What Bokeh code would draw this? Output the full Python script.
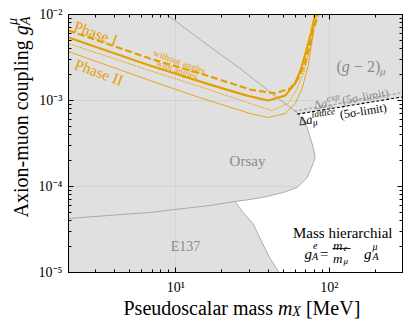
import math
from bokeh.plotting import figure
from bokeh.layouts import column, row
from bokeh.models import LogAxis, FixedTicker, CustomJSTickFormatter, Label
from bokeh.embed import file_html
from bokeh.resources import INLINE

# ---------------- data ----------------
x_min, x_max = 2.0, 300.0
y_min, y_max = 1e-5, 1e-2

x_major_ticks = [10, 100]
x_minor_ticks = [2, 3, 4, 5, 6, 7, 8, 9, 20, 30, 40, 50, 60, 70, 80, 90, 200, 300]
y_major_ticks = [1e-5, 1e-4, 1e-3, 1e-2]
y_minor_ticks = [2e-5, 3e-5, 4e-5, 5e-5, 6e-5, 7e-5, 8e-5, 9e-5,
                 2e-4, 3e-4, 4e-4, 5e-4, 6e-4, 7e-4, 8e-4, 9e-4,
                 2e-3, 3e-3, 4e-3, 5e-3, 6e-3, 7e-3, 8e-3, 9e-3]

# Phase I, with angles (thick solid)
phase1_with_m = [2.0, 6.76, 16.7, 29.1, 39.9, 51.6, 60.0, 65.6, 70.8, 76.2, 81.0]
phase1_with_g = [5.40e-3, 2.55e-3, 1.53e-3, 1.14e-3, 1.00e-3, 1.14e-3, 1.58e-3, 2.36e-3, 3.81e-3, 6.18e-3, 1.0e-2]
# Phase I, without angles (thick dashed)
phase1_without_m = [2.0, 6.76, 16.7, 30.5, 44.4, 55.6, 62.7, 68.7, 74.0, 78.6, 84.8]
phase1_without_g = [6.52e-3, 3.08e-3, 1.90e-3, 1.34e-3, 1.21e-3, 1.38e-3, 1.80e-3, 2.55e-3, 4.03e-3, 6.52e-3, 1.0e-2]
# Phase II, without angles (thin dashed)
phase2_without_m = [2.0, 6.76, 14.35, 30.5, 42.4, 54.0, 61.8, 68.7, 75.1, 79.8, 83.5]
phase2_without_g = [4.60e-3, 2.23e-3, 1.45e-3, 9.23e-4, 7.65e-4, 9.23e-4, 1.38e-3, 2.23e-3, 4.36e-3, 7.45e-3, 1.0e-2]
# Phase II, with angles (thin solid)
phase2_with_m = [2.0, 6.76, 14.35, 30.5, 39.9, 51.6, 60.0, 66.6, 72.9, 77.4, 81.0]
phase2_with_g = [3.71e-3, 1.71e-3, 1.08e-3, 7.06e-4, 6.34e-4, 7.06e-4, 9.23e-4, 1.38e-3, 2.55e-3, 4.98e-3, 1.0e-2]

# Orsay exclusion boundary (from the top edge, round the tip, to the left edge)
orsay_m = [8.73, 14.4, 26.2, 45.8, 61.8, 71.8, 78.6, 81.0, 78.6, 71.8, 61.8, 50.0, 39.4, 30.5, 24.3, 16.7, 6.76, 2.0]
orsay_g = [1.0e-2, 5.12e-3, 2.36e-3, 1.08e-3, 7.24e-4, 4.85e-4, 2.84e-4, 2.17e-4, 1.85e-4, 1.27e-4,
           9.73e-5, 8.51e-5, 7.65e-5, 7.06e-5, 6.70e-5, 6.02e-5, 4.99e-5, 4.25e-5]
# E137 exclusion boundary (from the Orsay junction down to the bottom edge)
e137_m = [24.3, 27.4, 31.8, 36.5, 41.1, 47.1]
e137_g = [6.70e-5, 4.99e-5, 3.72e-5, 2.23e-5, 1.46e-5, 1.0e-5]
# (g-2)_mu 5 sigma limits
g2_exp_m = [59.0, 137.0, 300.0]
g2_exp_g = [7.55e-4, 9.70e-4, 1.24e-3]
g2_lat_m = [62.0, 137.0, 300.0]
g2_lat_g = [6.94e-4, 8.75e-4, 1.10e-3]

# allowed (white) region: below the lattice limit, right of E137, below Orsay
allowed_m = g2_lat_m + [x_max] + e137_m[::-1] + orsay_m[5:15][::-1]
allowed_g = g2_lat_g + [y_min] + e137_g[::-1] + orsay_g[5:15][::-1]

ORANGE = "#e69f00"
GRAYTXT = "#8a8a8a"
FONT = "Liberation Serif"

# ---------------- main figure ----------------
p = figure(x_axis_type="log", y_axis_type="log",
           x_range=(x_min, x_max), y_range=(y_min, y_max),
           frame_width=334, frame_height=258,
           min_border_left=34, min_border_right=9, min_border_top=14, min_border_bottom=26,
           output_backend="svg", toolbar_location=None,
           background_fill_color="#e0e0e0", border_fill_color="white")
p.outline_line_color = "black"
p.outline_line_width = 1

fmt_code = """
const e = Math.round(Math.log10(tick));
const sup = {'-':'\u207b','0':'\u2070','1':'\u00b9','2':'\u00b2','3':'\u00b3','4':'\u2074','5':'\u2075','6':'\u2076','7':'\u2077','8':'\u2078','9':'\u2079'};
return '10' + String(e).split('').map(c => sup[c]).join('');
"""

def style_axis(ax):
    ax.major_tick_in = 5
    ax.major_tick_out = 0
    ax.minor_tick_in = 3
    ax.minor_tick_out = 0
    ax.axis_line_color = "black"
    ax.major_tick_line_color = "black"
    ax.minor_tick_line_color = "black"
    ax.axis_line_width = 1
    ax.major_label_text_font = FONT
    ax.major_label_text_font_size = "14px"
    ax.major_label_text_color = "black"

p.xaxis.ticker = FixedTicker(ticks=x_major_ticks, minor_ticks=x_minor_ticks)
p.yaxis.ticker = FixedTicker(ticks=y_major_ticks, minor_ticks=y_minor_ticks)
p.xaxis.formatter = CustomJSTickFormatter(code=fmt_code)
p.yaxis.formatter = CustomJSTickFormatter(code=fmt_code)
style_axis(p.xaxis[0])
style_axis(p.yaxis[0])
p.xaxis.major_label_standoff = 7
p.yaxis.major_label_standoff = 6

top = LogAxis(ticker=FixedTicker(ticks=x_major_ticks, minor_ticks=x_minor_ticks),
              formatter=CustomJSTickFormatter(code="return ''"), major_label_standoff=0)
right = LogAxis(ticker=FixedTicker(ticks=y_major_ticks, minor_ticks=y_minor_ticks),
                formatter=CustomJSTickFormatter(code="return ''"), major_label_standoff=0)
style_axis(top)
style_axis(right)
p.add_layout(top, "above")
p.add_layout(right, "right")

p.xgrid.ticker = FixedTicker(ticks=x_major_ticks)
p.ygrid.ticker = FixedTicker(ticks=y_major_ticks)
p.grid.grid_line_color = "#cfcfcf"
p.grid.grid_line_alpha = 0.7
p.grid.grid_line_width = 1

# ---------------- regions and limits ----------------
p.patch(allowed_m, allowed_g, fill_color="white", line_color=None)
p.line(orsay_m, orsay_g, line_color="#9c9c9c", line_width=0.8)
p.line(e137_m, e137_g, line_color="#9c9c9c", line_width=0.8)
p.line(g2_exp_m, g2_exp_g, line_color="#9a9a9a", line_width=1.1, line_dash="3 2")
p.line(g2_lat_m, g2_lat_g, line_color="black", line_width=1.1, line_dash="3 2")

# ---------------- projected sensitivities ----------------
p.line(phase2_with_m, phase2_with_g, line_color=ORANGE, line_width=0.9)
p.line(phase2_without_m, phase2_without_g, line_color=ORANGE, line_width=0.9, line_dash="2 1")
p.line(phase1_with_m, phase1_with_g, line_color=ORANGE, line_width=2.2)
p.line(phase1_without_m, phase1_without_g, line_color=ORANGE, line_width=2.2, line_dash="7 3")

# ---------------- texts (screen units relative to each frame) ----------------
def add_pieces(fig, sx, sy, pieces, angle=0.0, color="black", align="left"):
    ca, sa = math.cos(angle), math.sin(angle)
    for txt, dx, dy, size, style in pieces:
        fig.add_layout(Label(x=sx, y=sy, x_units="screen", y_units="screen",
                             x_offset=dx * ca - dy * sa, y_offset=dx * sa + dy * ca,
                             text=txt, angle=angle, text_font=FONT,
                             text_font_size=f"{size}px", text_font_style=style,
                             text_color=color, text_align=align,
                             text_baseline="alphabetic"))

# phase labels
add_pieces(p, 6, 247, [("Phase I", 0, 0, 15.5, "normal")], angle=-0.34, color=ORANGE)
add_pieces(p, 7, 209, [("Phase II", 0, 0, 15.5, "normal")], angle=-0.35, color=ORANGE)
add_pieces(p, 85, 220, [("without angles", 0, 0, 9.5, "normal")], angle=-0.35, color=ORANGE)
add_pieces(p, 88, 210, [("with angles", 0, 0, 9.5, "normal")], angle=-0.35, color=ORANGE)

# region labels
add_pieces(p, 268, 206, [("(", 0, 0, 16, "normal"), ("g", 5.3, 0, 16, "italic"),
                         ("\u2212 2)", 17.5, 0, 16, "normal"), ("\u03bc", 43.5, -4, 11, "italic")],
           color=GRAYTXT)
add_pieces(p, 179, 112, [("Orsay", 0, 0, 15, "normal")], color=GRAYTXT, align="center")
add_pieces(p, 117, 26, [("E137", 0, 0, 14, "normal")], color=GRAYTXT, align="center")

add_pieces(p, 245, 167, [("\u0394", 0, 0, 12.5, "normal"), ("a", 7.6, 0, 12.5, "italic"),
                         ("exp", 14.0, 4.5, 9.5, "italic"), ("\u03bc", 14.0, -3.5, 9.5, "italic"),
                         ("(5\u03c3-limit)", 29.0, 0, 12, "normal")],
           angle=0.17, color=GRAYTXT)
add_pieces(p, 230, 151, [("\u0394", 0, 0, 12.5, "normal"), ("a", 7.6, 0, 12.5, "italic"),
                         ("lattice", 14.0, 4.5, 9.5, "italic"), ("\u03bc", 14.0, -3.5, 9.5, "italic"),
                         ("(5\u03c3-limit)", 42.0, 0, 12, "normal")],
           angle=0.16, color="black")

# mass hierarchy note
add_pieces(p, 324, 40, [("Mass hierarchial", 0, 0, 15, "normal")], align="right")
add_pieces(p, 0, 1, [("g", 236, 18, 15, "italic"), ("e", 244.5, 26, 10, "italic"),
                     ("A", 243.5, 15, 10, "italic"), ("=", 251.5, 18, 15, "normal"),
                     ("m", 264.5, 26, 13, "italic"), ("e", 275, 24, 9, "italic"),
                     ("m", 264.5, 13, 13, "italic"), ("\u03bc", 275, 11, 9, "italic"),
                     ("g", 295.5, 18, 15, "italic"), ("\u03bc", 304, 25, 10, "italic"),
                     ("A", 304, 15, 10, "italic")])
p.add_layout(Label(x=273, y=24, x_units="screen", y_units="screen",
                   text="\u2500\u2500\u2500", text_font="DejaVu Sans", text_font_size="10px",
                   text_align="center", text_baseline="middle", text_color="black"))

# ---------------- axis-title panels ----------------
def blank_fig(w, h):
    f = figure(width=w, height=h, x_axis_location=None, y_axis_location=None,
               toolbar_location=None, output_backend="svg", min_border=0,
               outline_line_color=None, background_fill_color="white",
               border_fill_color="white")
    f.grid.visible = False
    return f

ytitle = blank_fig(34, 298)
add_pieces(ytitle, 20, 55, [("Axion-muon coupling", 0, 0, 20, "normal"),
                            ("g", 182.2, 0, 20, "italic"),
                            ("\u03bc", 192.5, 8.5, 14, "italic"),
                            ("A", 192.5, -5, 14, "italic")], angle=math.pi / 2)

xtitle = blank_fig(411, 28)
add_pieces(xtitle, 123, 19, [("Pseudoscalar mass", 0, 0, 20, "normal"),
                             ("m", 154.4, 0, 20, "italic"),
                             ("X", 168.8, -4, 14, "italic"),
                             ("[MeV]", 182.4, 0, 20, "normal")])

layout = column(row(ytitle, p), xtitle)
open("out.html", "w").write(file_html(layout, INLINE))
